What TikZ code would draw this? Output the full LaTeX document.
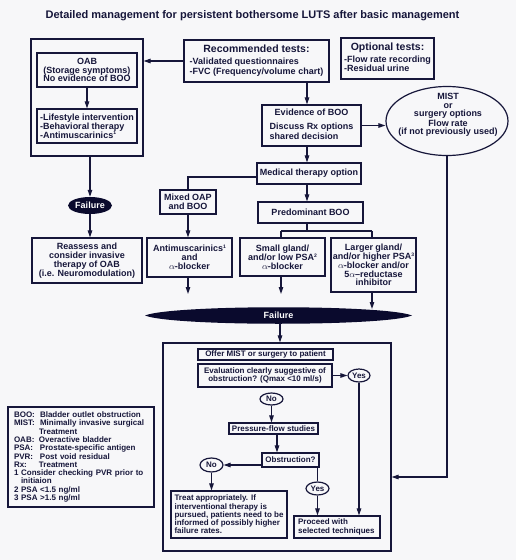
\documentclass[tikz,border=0pt]{standalone}
\usepackage{fontspec}
\setmainfont{Liberation Sans}
\usetikzlibrary{arrows.meta,shapes.geometric}
\definecolor{ink}{RGB}{22,22,58}
\definecolor{navy}{RGB}{10,10,45}
\definecolor{bgc}{RGB}{247,247,249}
\newcommand\fsz[2]{\fontsize{#1}{#2}\selectfont\bfseries}
\newcommand\sups[1]{\raisebox{3.2pt}{\fontsize{5}{5}\selectfont #1}}
\newcommand\hdblock[3]{\begin{tabular}{@{}l@{}}\multicolumn{1}{@{}c@{}}{#1}\\[#2]#3\end{tabular}}
\tikzset{
 box/.style={rectangle, draw=ink, line width=1.2pt, text=ink, inner sep=0pt, align=center, font=\fsz{9}{8.8}},
 lbox/.style={box, font=\fsz{8}{8.3}},
 oval/.style={ellipse, draw=ink, line width=1.2pt, text=ink, inner sep=0pt, font=\fsz{8}{8}},
 fail/.style={ellipse, fill=navy, text=white, inner sep=0pt, font=\fsz{9}{9}},
 arr/.style={draw=ink, line width=1.1pt, -{Triangle[length=7pt,width=4.5pt]}},
 ln/.style={draw=ink, line width=1.1pt},
}
\begin{document}
\begin{tikzpicture}[x=1pt,y=-1pt]
\fill[bgc] (0,0) rectangle (516,560);
\useasboundingbox (0,0) rectangle (516,560);

\node[text=ink, font=\fsz{11}{12}] (title) at (252.5,15.5) {Detailed management for persistent bothersome LUTS after basic management};

% left column
\node[box, minimum width=112pt, minimum height=117pt] (leftouter) at (87,97.5) {};
\node[box, minimum width=100pt, minimum height=34pt] (oab) at (87,70) {OAB\\(Storage symptoms)\\No evidence of BOO};
\node[box, minimum width=100pt, minimum height=34pt, align=left] (life) at (87,126) {-Lifestyle intervention\\-Behavioral therapy\\-Antimuscarinics\sups{1}};

% tests
\node[box, minimum width=145pt, minimum height=42pt] (rec) at (256.5,61) {\hdblock{\fsz{10.5}{11}Recommended tests:}{3pt}{-Validated questionnaires\\-FVC (Frequency/volume chart)}};
\node[box, minimum width=93pt, minimum height=41pt] (opt) at (387.5,58.5) {\hdblock{\fsz{10.5}{11}Optional tests:}{3pt}{-Flow rate recording\\-Residual urine}};

\node[box, minimum width=99pt, minimum height=41pt] (evid) at (311.5,125.5) {\hdblock{Evidence of BOO}{5pt}{Discuss Rx options\\shared decision}};

\node[oval, minimum width=122pt, minimum height=69pt] (mist) at (447,121) {};
\node[text=ink, font=\fsz{9}{8.4}, align=center] (misttext) at (448,115) {MIST\\or\\surgery options\\Flow rate\\(if not previously used)};

\node[box, minimum width=104pt, minimum height=21pt] (medical) at (309,173.5) {Medical therapy option};
\node[fail, minimum width=44pt, minimum height=17pt] (failL) at (90,205.5) {Failure};
\node[box, minimum width=56pt, minimum height=24pt] (mixed) at (188,202) {Mixed OAP\\and BOO};
\node[box, minimum width=105pt, minimum height=21pt] (predom) at (310.5,212.5) {Predominant BOO};
\node[box, minimum width=110pt, minimum height=45pt] (reassess) at (87,260.5) {Reassess and\\consider invasive\\therapy of OAB\\(i.e. Neuromodulation)};
\node[box, minimum width=85pt, minimum height=39pt] (antim) at (189.5,257.5) {Antimuscarinics\sups{1}\\and\\$\alpha$-blocker};
\node[box, minimum width=85pt, minimum height=38pt] (small) at (282.5,257) {Small gland/\\and/or low PSA\sups{2}\\$\alpha$-blocker};
\node[box, minimum width=85pt, minimum height=54pt] (larger) at (373.5,265) {Larger gland/\\and/or higher PSA\sups{3}\\$\alpha$-blocker and/or\\5$\alpha$--reductase\\inhibitor};

% big failure lens
\fill[navy] (145,315.5) .. controls (172,304.5) and (385,304.5) .. (412,315.5) .. controls (385,326.5) and (172,326.5) .. cycle;
\node[text=white, font=\fsz{9}{9}] (failBig) at (278.5,315.5) {Failure};

% lower box
\node[box, minimum width=228pt, minimum height=208pt] (lowerbox) at (277,447) {};
\node[lbox, minimum width=135pt, minimum height=11pt] (offer) at (265.5,354.5) {Offer MIST or surgery to patient};
\node[lbox, minimum width=134pt, minimum height=23pt] (evalq) at (265,375.5) {Evaluation clearly suggestive of\\obstruction? (Qmax <10 ml/s)};
\node[oval, minimum width=22pt, minimum height=13pt] (yes1) at (359,375.5) {Yes};
\node[oval, minimum width=23pt, minimum height=12pt] (no1) at (271.5,399) {No};
\node[lbox, minimum width=89pt, minimum height=11pt] (pressure) at (273.5,428.5) {Pressure-flow studies};
\node[lbox, minimum width=57pt, minimum height=14pt] (obstr) at (290.5,460) {Obstruction?};
\node[oval, minimum width=23pt, minimum height=14pt] (no2) at (211.5,465) {No};
\node[lbox, minimum width=116pt, minimum height=47pt, align=left] (treat) at (229,514.5) {Treat appropriately. If\\interventional therapy is\\pursued, patients need to be\\informed of possibly higher\\failure rates.};
\node[oval, minimum width=23pt, minimum height=13pt] (yes2) at (317.5,488.5) {Yes};
\node[lbox, minimum width=86pt, minimum height=22pt, align=left] (proceed) at (337,527) {Proceed with\hspace*{28pt}\\selected techniques};

% legend
\node[lbox, minimum height=100pt, text width=134pt, inner xsep=6pt, align=left] (legend) at (81,457) {%
\makebox[26pt][l]{BOO:}Bladder outlet obstruction\\
\makebox[26pt][l]{MIST:}Minimally invasive surgical\\
\hspace*{25pt}Treatment\\
\makebox[25pt][l]{OAB:}Overactive bladder\\
\makebox[26pt][l]{PSA:}Prostate-specific antigen\\
\makebox[26pt][l]{PVR:}Post void residual\\
\makebox[25pt][l]{Rx:}Treatment\\
1 Consider checking PVR prior to\\
\hspace*{7pt}initiaion\\
2 PSA <1.5 ng/ml\\
3 PSA >1.5 ng/ml};

% coordinates
\coordinate (axisx) at (307,0);
\coordinate (mixturn) at (188,177);
\coordinate (br) at (307,231);
\coordinate (fa1) at (188,294);
\coordinate (fa2) at (281,294);
\coordinate (fa3) at (372,309);
\coordinate (fbb) at (280,323);
\coordinate (mistturn) at (447,477);

% connectors upper
\draw[arr] (rec.west) -- (rec.west -| leftouter.east);
\draw[arr] (oab.south) -- (life.north);
\draw[arr] (failL.north |- leftouter.south) -- (failL.north);
\draw[arr] (failL.south) -- (failL.south |- reassess.north);
\draw[arr] (rec.south -| axisx) -- (evid.north -| axisx);
\draw[arr] (evid.east) -- (evid.east -| mist.west);
\draw[arr] (evid.south -| axisx) -- (medical.north -| axisx);
\draw[arr] (medical.south -| axisx) -- (predom.north -| axisx);
\draw[ln] (mixturn -| medical.west) -- (mixturn) -- (mixed.north);
\draw[arr] (mixed.south) -- (mixed.south |- antim.north);
\draw[ln] (br |- predom.south) -- (br);
\draw[ln] (fa2 |- br) -- (fa3 |- br);
\draw[ln] (fa2 |- br) -- (fa2 |- small.north);
\draw[ln] (fa3 |- br) -- (fa3 |- larger.north);
\draw[arr] (fa1 |- antim.south) -- (fa1);
\draw[arr] (fa2 |- small.south) -- (fa2);
\draw[arr] (fa3 |- larger.south) -- (fa3);
\draw[arr] (fbb) -- (fbb |- lowerbox.north);
\draw[arr] (mist.south) -- (mistturn) -- (mistturn -| lowerbox.east);

% connectors lower
\draw[arr] (evalq.east) -- (yes1.west);
\draw[arr] (no1.south) -- (no1.south |- pressure.north);
\draw[arr] ([xshift=3.5pt]pressure.south) -- ([xshift=3.5pt]pressure.south |- obstr.north);
\draw[arr] (obstr.west |- no2.east) -- (no2.east);
\draw[arr] (no2.south) -- (no2.south |- treat.north);
\draw[ln] (yes2.north |- obstr.south) -- (yes2.north);
\draw[arr] (yes2.south) -- (yes2.south |- proceed.north);
\draw[arr] (yes1.south) -- (yes1.south |- proceed.north);
\end{tikzpicture}
\end{document}
